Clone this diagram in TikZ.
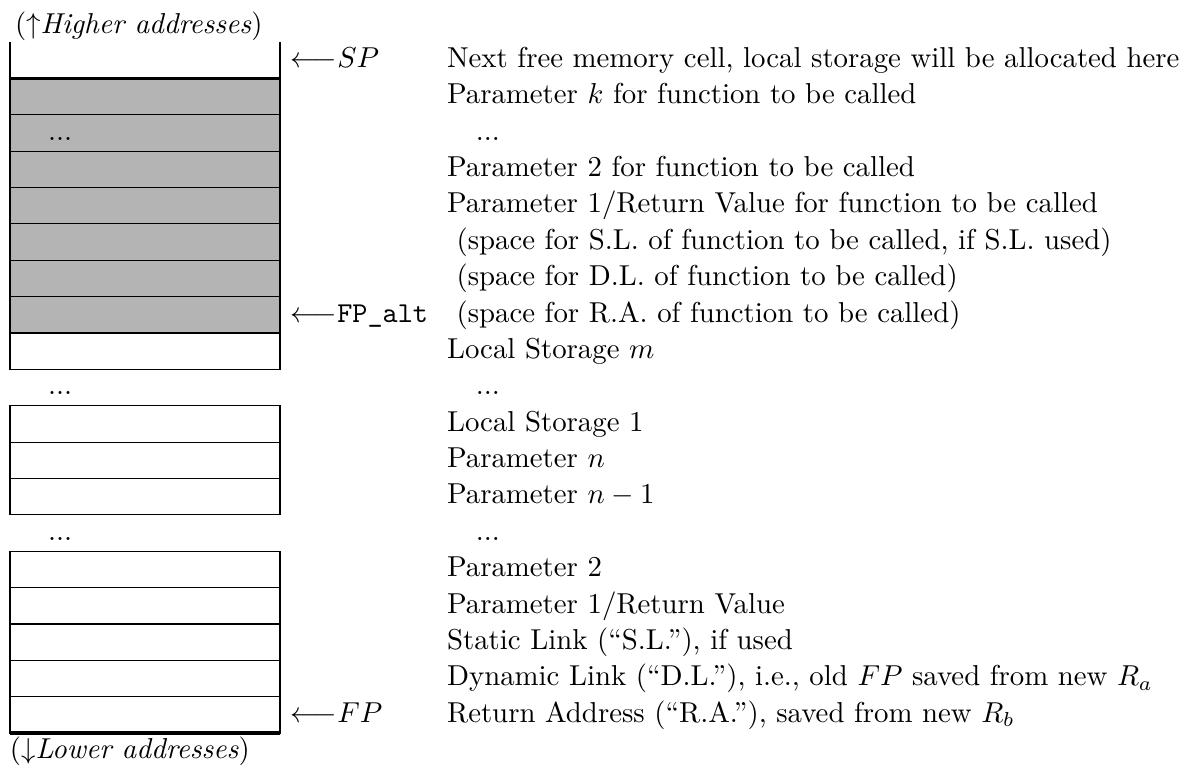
\documentclass[tikz,border=0pt]{standalone}
\usetikzlibrary{positioning}
\definecolor{cellgray}{RGB}{180,180,180}
\tikzset{
  cell/.style={minimum width=93.74pt,minimum height=12.63pt,inner sep=0pt,outer sep=0pt},
  framed/.style={cell,draw,line width=0.4pt},
  shaded/.style={framed,fill=cellgray},
  txt/.style={inner sep=0pt,outer sep=0pt,text height=7pt,text depth=2pt,anchor=west},
  edge/.style={line width=0.7pt},
  rim/.style={line width=1.2pt},
}
\newcommand{\ptr}[1]{$\longleftarrow$#1}

\begin{document}
\begin{tikzpicture}[x=0.3472pt,y=-0.3472pt,node distance=0pt]
\useasboundingbox (0,0) rectangle (1193,765);
% the stack, top to bottom
\node[cell,anchor=north] (free) at (145,42) {};
\node[shaded,below=of free] (pk) {};
\node[shaded,below=of pk] (pdots) {};
\node[shaded,below=of pdots] (ptwo) {};
\node[shaded,below=of ptwo] (pone) {};
\node[shaded,below=of pone] (sl) {};
\node[shaded,below=of sl] (dl) {};
\node[shaded,below=of dl] (ra) {};
\node[framed,below=of ra] (lsm) {};
\node[cell,below=of lsm] (gapa) {};
\node[framed,below=of gapa] (lsone) {};
\node[framed,below=of lsone] (pn) {};
\node[framed,below=of pn] (pnm) {};
\node[cell,below=of pnm] (gapb) {};
\node[framed,below=of gapb] (oldptwo) {};
\node[framed,below=of oldptwo] (oldpone) {};
\node[framed,below=of oldpone] (oldsl) {};
\node[framed,below=of oldsl] (olddl) {};
\node[framed,below=of olddl] (oldra) {};
% heavier left side, open top cell
\draw[edge] (free.north west) -- (lsm.south west);
\draw[edge] (lsone.north west) -- (pnm.south west);
\draw[edge] (oldptwo.north west) -- (oldra.south west);
\draw[edge] (free.north east) -- (free.south east);
\draw[rim] (free.south west) -- (free.south east);
\draw[rim] (oldra.south west) -- (oldra.south east);
% dots inside the stack
\node[txt] (dotsa) at ([xshift=13.2pt]pdots.west) {...};
\node[txt] (dotsb) at ([xshift=13.2pt]gapa.west) {...};
\node[txt] (dotsc) at ([xshift=13.2pt]gapb.west) {...};
% pointers
\node[txt,right=3.8pt of free] (sp) {\ptr{$SP$}};
\node[txt,right=3.8pt of ra] (fpalt) {\ptr{\texttt{FP\_alt}}};
\node[txt,right=3.8pt of oldra] (fp) {\ptr{$FP$}};
% descriptions
\node[txt,right=58pt of free] (nfree) {Next free memory cell, local storage will be allocated here};
\node[txt,right=58pt of pk] (npk) {Parameter $k$ for function to be called};
\node[txt,right=58pt of pdots] (npdots) {~~~...};
\node[txt,right=58pt of ptwo] (nptwo) {Parameter 2 for function to be called};
\node[txt,right=58pt of pone] (npone) {Parameter 1/Return Value for function to be called};
\node[txt,right=58pt of sl] (nsl) {~(space for S.L. of function to be called, if S.L. used)};
\node[txt,right=58pt of dl] (ndl) {~(space for D.L. of function to be called)};
\node[txt,right=58pt of ra] (nra) {~(space for R.A. of function to be called)};
\node[txt,right=58pt of lsm] (nlsm) {Local Storage $m$};
\node[txt,right=58pt of gapa] (ngapa) {~~~...};
\node[txt,right=58pt of lsone] (nlsone) {Local Storage 1};
\node[txt,right=58pt of pn] (npn) {Parameter $n$};
\node[txt,right=58pt of pnm] (npnm) {Parameter $n-1$};
\node[txt,right=58pt of gapb] (ngapb) {~~~...};
\node[txt,right=58pt of oldptwo] (noldptwo) {Parameter 2};
\node[txt,right=58pt of oldpone] (noldpone) {Parameter 1/Return Value};
\node[txt,right=58pt of oldsl] (noldsl) {Static Link (``S.L.''), if used};
\node[txt,right=58pt of olddl] (nolddl) {Dynamic Link (``D.L.''), i.e., old $FP$ saved from new $R_a$};
\node[txt,right=58pt of oldra] (noldra) {Return Address (``R.A.''), saved from new $R_b$};
% address direction
\node[txt] (high) at (15,26) {($\uparrow$\textit{Higher addresses})};
\node[txt] (low) at (10,751) {($\downarrow$\textit{Lower addresses})};
\end{tikzpicture}
\end{document}
